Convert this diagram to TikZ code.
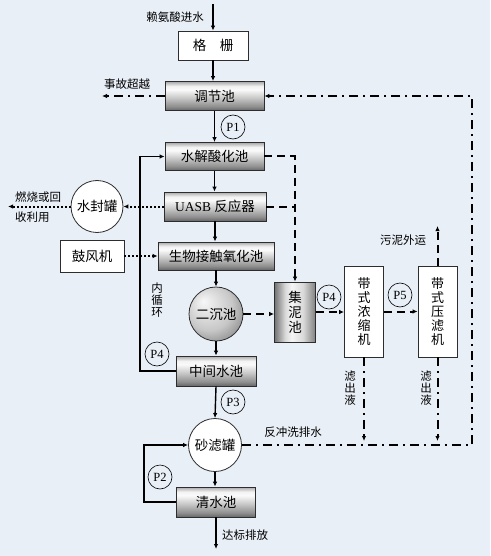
\documentclass[tikz,border=0pt]{standalone}
\usepackage{fontspec}
\setmainfont{Liberation Serif}
\newfontfamily\cjk{Noto Sans CJK SC}
\usetikzlibrary{arrows.meta}
\definecolor{bg}{RGB}{233,239,247}
\definecolor{edge}{RGB}{45,45,45}
\pgfdeclareverticalshading{hcyl}{100bp}{rgb(0bp)=(.40,.40,.40); rgb(25bp)=(.40,.40,.40); rgb(32bp)=(.56,.56,.56); rgb(48bp)=(.80,.80,.80); rgb(61bp)=(.98,.98,.98); rgb(67bp)=(.95,.95,.95); rgb(75bp)=(.66,.66,.66); rgb(100bp)=(.66,.66,.66)}
\pgfdeclarehorizontalshading{vcyl}{100bp}{rgb(0bp)=(.45,.45,.45); rgb(25bp)=(.45,.45,.45); rgb(38bp)=(.85,.85,.85); rgb(46bp)=(.96,.96,.96); rgb(60bp)=(.85,.85,.85); rgb(75bp)=(.50,.50,.50); rgb(100bp)=(.50,.50,.50)}
\pgfdeclareradialshading{lball}{\pgfpoint{-12bp}{12bp}}{rgb(0bp)=(.97,.97,.97); rgb(8bp)=(.90,.90,.90); rgb(22bp)=(.78,.78,.78); rgb(30bp)=(.62,.62,.62); rgb(50bp)=(.5,.5,.5)}
\tikzset{
  boxtxt/.style={font=\cjk\fontsize{13.5}{15}\selectfont, inner sep=0pt},
  plainbox/.style={boxtxt, draw=edge, line width=0.8pt, fill=white},
  hbox/.style={boxtxt, draw=edge, line width=0.8pt, shading=hcyl},
  vbox/.style={boxtxt, draw=edge, line width=0.8pt, shading=vcyl, align=center},
  tank/.style={boxtxt, circle, draw=edge, line width=0.8pt, fill=white, minimum size=53pt},
  ball/.style={boxtxt, circle, draw=edge, line width=0.8pt, shading=lball, minimum size=54pt},
  pump/.style={circle, draw=black, line width=0.6pt, minimum size=24pt, inner sep=0pt, font=\rmfamily\fontsize{12.5}{12.5}\selectfont},
  lbl/.style={font=\cjk\fontsize{11.5}{13}\selectfont, inner sep=0pt},
  tip/.style={-{Latex[length=5pt,width=4.5pt]}},
  flow/.style={line width=1.4pt, tip},
  mud/.style={line width=2pt, dash pattern=on 8pt off 5pt},
  ddot/.style={line width=2pt, dash pattern=on 9pt off 5pt on 2pt off 5pt},
  gas/.style={line width=2pt, dash pattern=on 2pt off 2pt},
}
\begin{document}
\begin{tikzpicture}[x=1pt,y=-1pt]
\useasboundingbox (0,0) rectangle (490,556);
\fill[bg] (0,0) rectangle (490,556);

% main column
\node[plainbox, minimum width=70pt, minimum height=29pt] (grille) at (213,45.5) {格　栅};
\node[hbox, minimum width=99pt, minimum height=29pt] (tiaojie) at (214.5,96) {调节池};
\node[hbox, minimum width=99pt, minimum height=28pt] (shuijie) at (214.5,156.5) {水解酸化池};
\node[hbox, minimum width=102pt, minimum height=29pt] (uasb) at (215,206.5) {{\rmfamily UASB} 反应器};
\node[hbox, minimum width=116pt, minimum height=28pt] (shengwu) at (216,256) {生物接触氧化池};
\node[ball] (erchen) at (216,314) {二沉池};
\node[hbox, minimum width=80pt, minimum height=30pt] (zhongjian) at (216,371) {中间水池};
\node[tank] (shalv) at (215,445) {砂滤罐};
\node[hbox, minimum width=79pt, minimum height=30pt] (qingshui) at (216,502) {清水池};

% left side
\node[tank, minimum size=52pt] (shuifeng) at (97,206.5) {水封罐};
\node[plainbox, minimum width=64pt, minimum height=32pt] (gufeng) at (92,256) {鼓风机};

% sludge line
\node[vbox, minimum width=41pt, minimum height=60pt] (jini) at (295,312) {集\\泥\\池};
\node[plainbox, align=center, minimum width=39pt, minimum height=91pt, font=\cjk\fontsize{13}{13.8}\selectfont] (nongsuo) at (364,311.5) {带\\式\\浓\\缩\\机};
\node[plainbox, align=center, minimum width=39pt, minimum height=91pt, font=\cjk\fontsize{13}{13.8}\selectfont] (yalv) at (437.5,311.5) {带\\式\\压\\滤\\机};

% pumps
\node[pump] (p1) at (233,127) {P1};
\node[pump] (p4a) at (157,354) {P4};
\node[pump] (p3) at (233,402) {P3};
\node[pump] (p2) at (160,477) {P2};
\node[pump] (p4b) at (329,297) {P4};
\node[pump] (p5) at (400,295) {P5};

% free ends
\coordinate (in) at (213,4);
\coordinate (out) at (216,549);
\coordinate (acc) at (102,96);
\coordinate (burn) at (8,206.5);
\coordinate (rc) at (140,371);
\coordinate (p2c) at (144,502);
\coordinate (rb) at (472,445);
\coordinate (wn) at (437.5,226);
\coordinate (f1) at (364,441);
\coordinate (f2) at (437.5,441);

% labels
\node[lbl, anchor=east] (linput) at (204,17) {赖氨酸进水};
\node[lbl] (lacc) at (127,84) {事故超越};
\node[lbl, anchor=west, align=left, font=\cjk\fontsize{11.5}{20}\selectfont] (lburn) at (15,207) {燃烧或回\\收利用};
\node[lbl, align=center, font=\cjk\fontsize{11.5}{11.7}\selectfont] (lnei) at (157,300) {内\\循\\环};
\node[lbl] (lwn) at (403,240) {污泥外运};
\node[lbl, align=center, font=\cjk\fontsize{11.5}{11.9}\selectfont] (lf1) at (350,388) {滤\\出\\液};
\node[lbl, align=center, font=\cjk\fontsize{11.5}{11.9}\selectfont] (lf2) at (426,388) {滤\\出\\液};
\node[lbl] (lback) at (293,432) {反冲洗排水};
\node[lbl, anchor=west] (lout) at (222,535) {达标排放};

% solid flow
\draw[flow] (in) -- (grille.north);
\draw[flow] (grille.south) -- (grille.south |- tiaojie.north);
\draw[flow] (tiaojie.south) -- (tiaojie.south |- shuijie.north);
\draw[flow] (shuijie.south) -- (shuijie.south |- uasb.north);
\draw[flow] (uasb.south) -- (uasb.south |- shengwu.north);
\draw[flow] (shengwu.south) -- (erchen.north);
\draw[flow] (erchen.south) -- (zhongjian.north);
\draw[flow] (zhongjian.south) -- (shalv.north);
\draw[flow] (shalv.south) -- (shalv.south |- qingshui.north);
\draw[flow] (qingshui.south) -- (out);
\draw[flow] (zhongjian.west) -- (rc) |- (shuijie.west);
\draw[flow] (qingshui.west) -- (p2c) |- (shalv.west);

% gas / air
\draw[gas, tip] (uasb.west) -- (shuifeng.east);
\draw[gas, tip] (shuifeng.west) -- (burn);
\draw[gas, tip] (gufeng.east) -- (shengwu.west);

% sludge
\draw[mud, tip] (shuijie.east) -| (jini.north);
\draw[mud] (uasb.east) -- (uasb.east -| jini.north);
\draw[mud, tip] (erchen.east) -- (erchen.east -| jini.west);
\draw[mud, tip] (jini.east) -- (jini.east -| nongsuo.west);
\draw[mud, tip] (nongsuo.east) -- (nongsuo.east -| yalv.west);
\draw[mud, tip] (yalv.north) -- (wn);

% dash-dot returns
\draw[ddot, tip] (tiaojie.west) -- (acc);
\draw[ddot, tip] (shalv.east) -- (rb) |- (tiaojie.east);
\draw[ddot, tip] (nongsuo.south) -- (f1);
\draw[ddot, tip] (yalv.south) -- (f2);
\end{tikzpicture}
\end{document}
